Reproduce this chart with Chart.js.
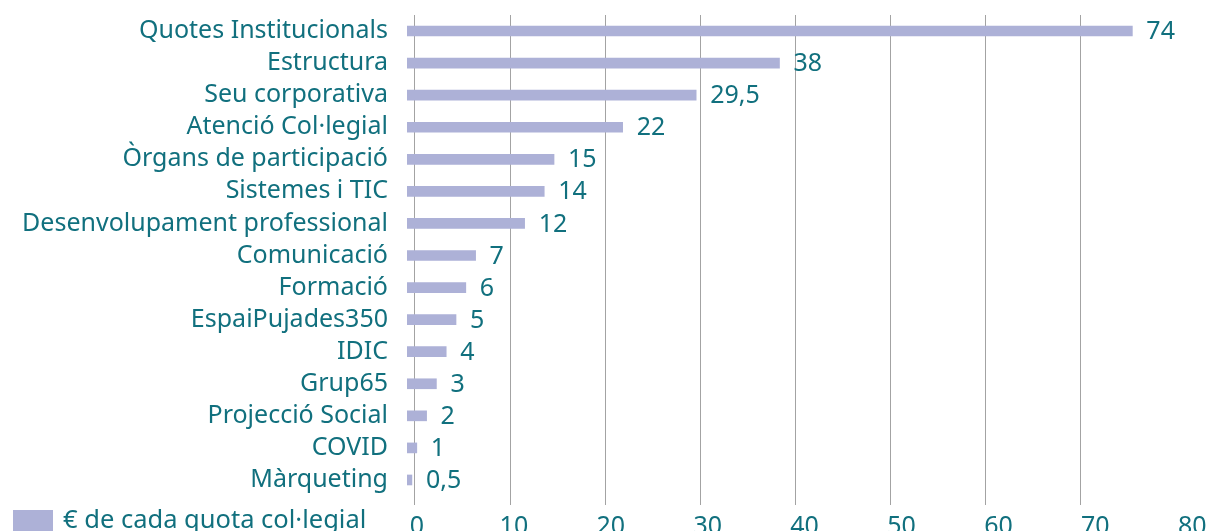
<!DOCTYPE html>
<html><head><meta charset="utf-8">
<script src="https://cdn.jsdelivr.net/npm/chart.js@4/dist/chart.umd.min.js"></script>
<style>html,body{margin:0;padding:0;background:#fff;} #wrap{width:1210px;height:531px;position:relative;overflow:hidden}</style>
</head><body><div id="wrap"><canvas id="c" width="1210" height="531"></canvas></div>
<script>
const categories = ["Quotes Institucionals","Estructura","Seu corporativa","Atenció Col·legial","Òrgans de participació","Sistemes i TIC","Desenvolupament professional","Comunicació","Formació","EspaiPujades350","IDIC","Grup65","Projecció Social","COVID","Màrqueting"];
const values = [74,38,29.5,22,15,14,12,7,6,5,4,3,2,1,0.5];
const seriesLabel = "€ de cada quota col·legial";
const tickValues = [0,10,20,30,40,50,60,70,80];
const gridValues = [0,10,20,30,40,50,60,70];

const TEXT = '#11707e';
const BAR = '#adb1d7';
const GRID = '#a3a3a3';
const FAMILY = '"Noto Sans", sans-serif';

const fmt = v => String(v).replace('.', ',');

const dataLabels = {
  id:'dataLabels',
  afterDatasetsDraw(chart){
    const ctx=chart.ctx; const meta=chart.getDatasetMeta(0);
    ctx.save(); ctx.fillStyle=TEXT; ctx.font='25px '+FAMILY; ctx.textAlign='left'; ctx.textBaseline='middle';
    meta.data.forEach((bar,i)=>{ ctx.fillText(fmt(values[i]), bar.x+14, bar.y+1); });
    ctx.restore();
  }
};
const bottomLegend = {
  id:'bottomLegend',
  afterDraw(chart){
    const ctx=chart.ctx; const ds=chart.data.datasets[0];
    ctx.save(); ctx.fillStyle=ds.backgroundColor; ctx.fillRect(13,510,40,24);
    ctx.fillStyle=TEXT; ctx.font='25.5px '+FAMILY; ctx.textAlign='left'; ctx.textBaseline='middle';
    ctx.fillText(ds.label, 63, 521); ctx.restore();
  }
};

new Chart(document.getElementById('c'), {
  type:'bar',
  data:{labels:categories, datasets:[{label:seriesLabel, data:values, backgroundColor:BAR, barThickness:10, xAxisID:'xb', yAxisID:'y'}]},
  options:{
    indexAxis:'y', responsive:false, animation:false,
    layout:{padding:{top:15,right:10,left:0,bottom:0}},
    plugins:{legend:{display:false}, tooltip:{enabled:false}},
    scales:{
      y:{type:'category', position:'left',
         grid:{display:true, drawOnChartArea:false, drawTicks:true, tickLength:19, color:'rgba(0,0,0,0)'},
         border:{display:false},
         ticks:{color:TEXT, font:{family:FAMILY, size:25}, padding:0, autoSkip:false}, afterFit:s=>{s.width=407;}},
      xb:{type:'linear', display:false, min:0, max:80.9, position:'bottom'},
      xg:{type:'linear', position:'bottom', min:-0.841, max:82.55, weight:0,
          grid:{color:GRID, lineWidth:1, drawTicks:true, tickLength:9}, border:{display:false},
          ticks:{display:false}, afterBuildTicks:s=>{s.ticks=gridValues.map(v=>({value:v}));}, afterFit:s=>{s.height=0;}},
      xl:{type:'linear', position:'bottom', min:-1.032, max:80.8, weight:1,
          grid:{display:false}, border:{display:false},
          ticks:{color:TEXT, font:{family:FAMILY, size:25, lineHeight:'46px'}, padding:0, maxRotation:0},
          afterBuildTicks:s=>{s.ticks=tickValues.map(v=>({value:v}));}, afterFit:s=>{s.height=35;}}
    }
  },
  plugins:[dataLabels, bottomLegend]
});
</script></body></html>
